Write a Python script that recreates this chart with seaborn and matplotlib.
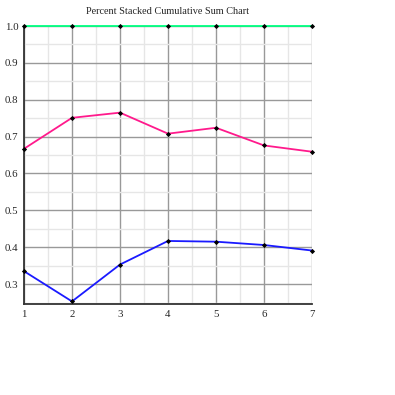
import numpy as np
import pandas as pd
import matplotlib
matplotlib.use('Agg')
import matplotlib.pyplot as plt
import seaborn as sns
from matplotlib.ticker import MultipleLocator

x_vals = [1, 2, 3, 4, 5, 6, 7]
series_a = [0.335, 0.253, 0.353, 0.417, 0.415, 0.406, 0.391]
series_b = [0.667, 0.751, 0.765, 0.708, 0.724, 0.676, 0.659]
series_c = [1.0, 1.0, 1.0, 1.0, 1.0, 1.0, 1.0]
series_names = ['A', 'B', 'C']
line_colors = ['#1a1aff', '#ff1a8c', '#00ff80']

df = pd.DataFrame({
    'x': x_vals * 3,
    'value': series_a + series_b + series_c,
    'series': np.repeat(series_names, len(x_vals)),
})

sns.set_style('white')
plt.rcParams['font.family'] = ['Liberation Serif', 'DejaVu Serif']

fig = plt.figure(figsize=(3.95, 3.95), dpi=100)
ax = fig.add_axes([24 / 395, 1 - 304 / 395, 288 / 395, 278 / 395])

sns.lineplot(data=df, x='x', y='value', hue='series', palette=line_colors,
             linewidth=1.3, legend=False, ax=ax, zorder=3, clip_on=False)
sns.scatterplot(data=df, x='x', y='value', color='black', marker='D', s=7,
                linewidth=0, legend=False, ax=ax, zorder=4, clip_on=False)

ax.set_xlim(1, 7)
ax.set_ylim(0.246, 1.0)
ax.xaxis.set_major_locator(MultipleLocator(1))
ax.xaxis.set_minor_locator(MultipleLocator(0.5))
ax.yaxis.set_major_locator(MultipleLocator(0.1))
ax.yaxis.set_minor_locator(MultipleLocator(0.05))
ax.grid(which='major', color='#999999', linewidth=1)
ax.grid(which='minor', color='#e6e6e6', linewidth=1)
ax.set_axisbelow(True)

for side in ['top', 'right']:
    ax.spines[side].set_visible(False)
for side in ['left', 'bottom']:
    ax.spines[side].set_color('#333333')
    ax.spines[side].set_linewidth(1.3)

ax.tick_params(axis='both', which='both', length=2, color='#333333', labelsize=7.8, pad=2)
ax.tick_params(axis='y', which='minor', length=0)
ax.set_xlabel('')
ax.set_ylabel('')
ax.set_title('Percent Stacked Cumulative Sum Chart', fontsize=7.4, pad=9)

fig.savefig('out.png', dpi=100)
plt.close(fig)
